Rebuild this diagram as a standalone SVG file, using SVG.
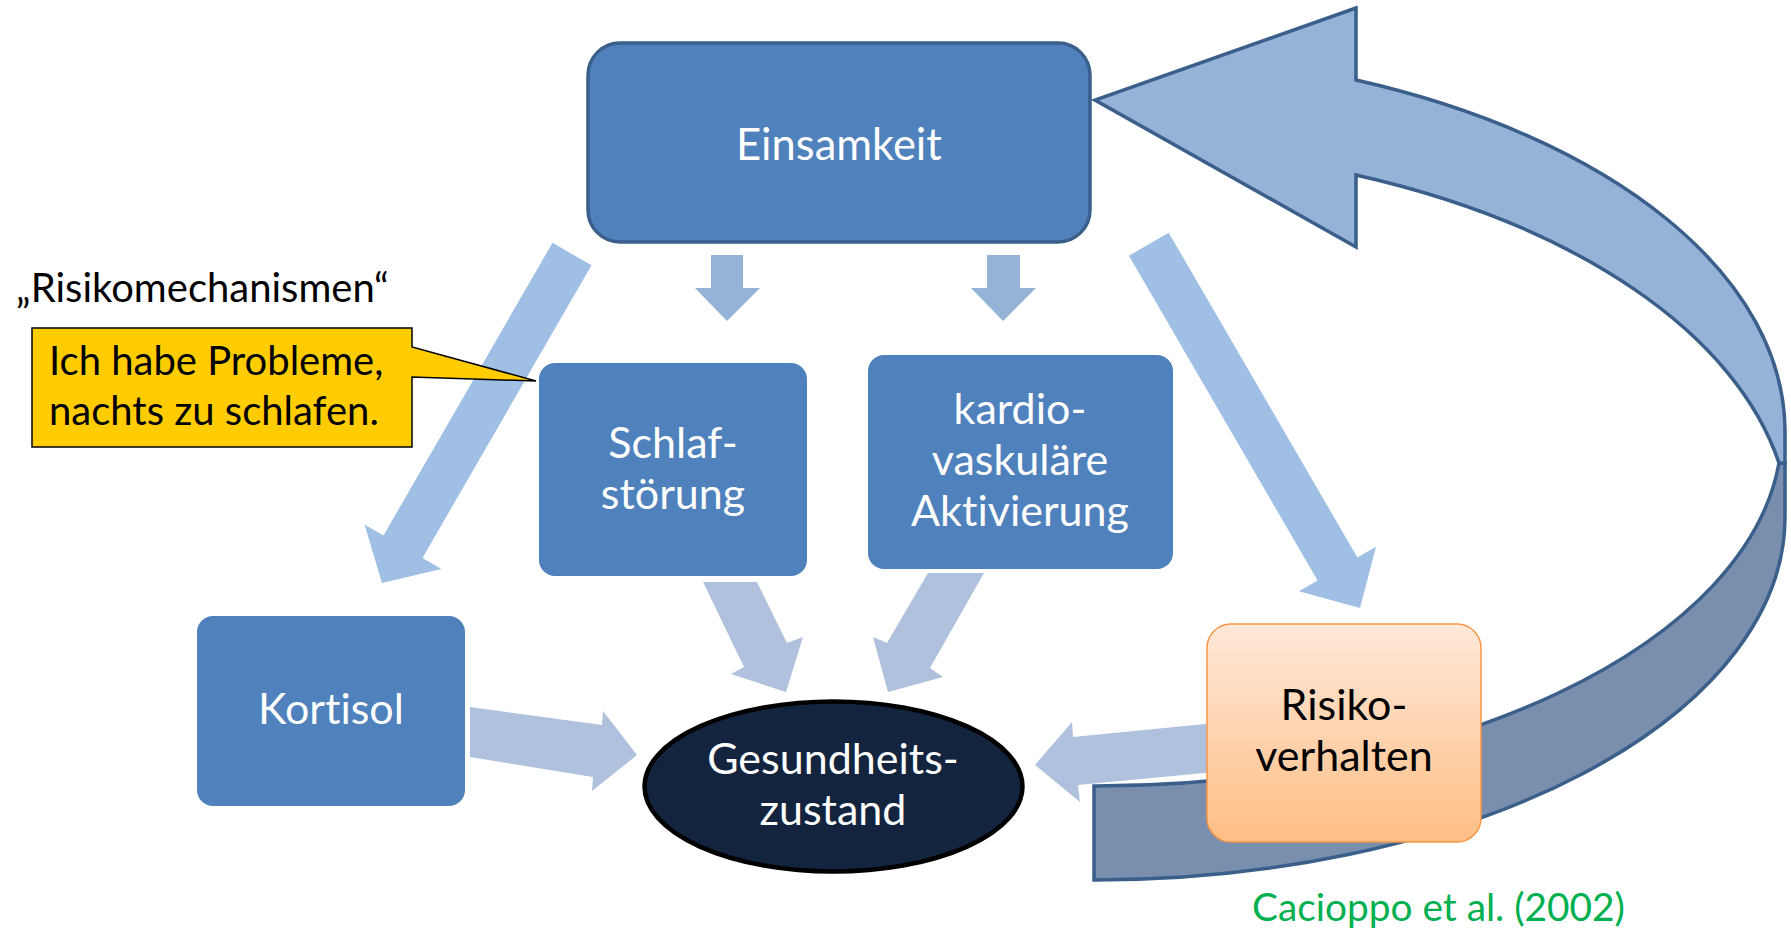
<svg xmlns="http://www.w3.org/2000/svg" width="1791" height="932" viewBox="0 0 1791 932">
  <defs>
    <linearGradient id="orangeGrad" x1="0" y1="0" x2="0" y2="1">
      <stop offset="0" stop-color="#FFE9D9"/>
      <stop offset="1" stop-color="#FFBE85"/>
    </linearGradient>
  </defs>
  <style>
    .txt { font-family: Lato, "Liberation Sans", sans-serif; font-variant-ligatures: none; }
    .white { fill: #FFFFFF; }
    .black { fill: #000000; }
    .box { fill: #4F81BD; }
    .diag { fill: #9FBFE5; }
    .down { fill: #95B3D7; }
    .toHealth { fill: #B0C1DD; }
    .loopLight { fill: #95B3D7; stroke: #3A5F8B; stroke-width: 3.5; stroke-linejoin: miter; }
    .loopDark { fill: #7A8FAE; stroke: #3A5F8B; stroke-width: 3.5; stroke-linejoin: miter; }
  </style>
  <rect width="1791" height="932" fill="#FFFFFF"/>

  <g id="feedback-loop">
    <path class="loopDark" d="M1779,463 A686,356 0 0 1 1094,786 L1094,880 A691,363 0 0 0 1785,517 L1785,463 Z"/>
    <path class="loopLight" d="M1356,8 L1095,100 L1356,247 L1356,175 A696,387 0 0 1 1779,463 L1785,463 L1785,430 A691,380 0 0 0 1356,80 Z"/>
  </g>

  <g id="connectors">
    <polygon class="diag" points="552.5,242.8 591.5,265.3 422.5,557.9 441.5,568.9 382,583 364.5,524.4 383.5,535.4"/>
    <polygon class="diag" points="1128.9,255.7 1168.7,232.7 1357.4,557.5 1376,546.8 1360,608 1299,591.3 1317.6,580.5"/>
    <polygon class="down" points="711,255 743,255 743,288 760,288 727,321 695,288 711,288"/>
    <polygon class="down" points="987,255 1020,255 1020,288 1036,288 1003,321 971,288 987,288"/>
    <polygon class="toHealth" points="703,582 757,582 787,643 803,637 786,692 731,674 744,667"/>
    <polygon class="toHealth" points="928,573 984,573 930,668 943,677 888,692 873,637 887,643"/>
    <polygon class="toHealth" points="470,707 602,725 603,711 637,755 592,791 593,777 470,757"/>
    <polygon class="toHealth" points="1035,765 1072,722 1073,737 1215,723 1215,772 1078,785 1080,802"/>
  </g>

  <g id="einsamkeit">
    <rect x="588" y="43" width="502" height="199" rx="32" ry="32" fill="#4F81BD" stroke="#3A5F8B" stroke-width="3.5"/>
    <text class="txt white" x="839" y="160" font-size="43.5" text-anchor="middle">Einsamkeit</text>
  </g>

  <g id="schlafstoerung">
    <rect class="box" x="539" y="363" width="268" height="213" rx="16" ry="16"/>
    <text class="txt white" x="673" y="458" font-size="43" text-anchor="middle">Schlaf-</text>
    <text class="txt white" x="673" y="509" font-size="43" text-anchor="middle">störung</text>
  </g>

  <g id="kardio">
    <rect class="box" x="868" y="355" width="305" height="214" rx="16" ry="16"/>
    <text class="txt white" x="1020" y="424" font-size="43" text-anchor="middle">kardio-</text>
    <text class="txt white" x="1020" y="475" font-size="43" text-anchor="middle">vaskuläre</text>
    <text class="txt white" x="1020" y="526" font-size="43" text-anchor="middle">Aktivierung</text>
  </g>

  <g id="kortisol">
    <rect class="box" x="197" y="616" width="268" height="190" rx="16" ry="16"/>
    <text class="txt white" x="331" y="724" font-size="43" text-anchor="middle">Kortisol</text>
  </g>

  <g id="gesundheitszustand">
    <ellipse cx="833.5" cy="786.5" rx="189" ry="85" fill="#13243F" stroke="#000000" stroke-width="4.5"/>
    <text class="txt white" x="833" y="774" font-size="43" text-anchor="middle">Gesundheits-</text>
    <text class="txt white" x="833" y="825" font-size="43" text-anchor="middle">zustand</text>
  </g>

  <g id="risikoverhalten">
    <rect x="1207" y="624" width="274" height="218" rx="24" ry="24" fill="url(#orangeGrad)" stroke="#F79646" stroke-width="1.5"/>
    <text class="txt black" x="1344" y="720" font-size="43" text-anchor="middle">Risiko-</text>
    <text class="txt black" x="1344" y="771" font-size="43" text-anchor="middle">verhalten</text>
  </g>

  <g id="callout">
    <path d="M32,328 L412,328 L412,347 L536,381 L412,377 L412,447 L32,447 Z" fill="#FFCC00" stroke="#000000" stroke-width="1.5" stroke-linejoin="miter"/>
    <text class="txt black" x="49" y="375" font-size="40">Ich habe Probleme,</text>
    <text class="txt black" x="49" y="425" font-size="40">nachts zu schlafen.</text>
  </g>

  <g id="title">
    <text class="txt black" x="16" y="302" font-size="40">„Risikomechanismen“</text>
  </g>

  <g id="citation">
    <text class="txt" x="1252" y="921" font-size="38.8" fill="#00B050">Cacioppo et al. (2002)</text>
  </g>
</svg>
